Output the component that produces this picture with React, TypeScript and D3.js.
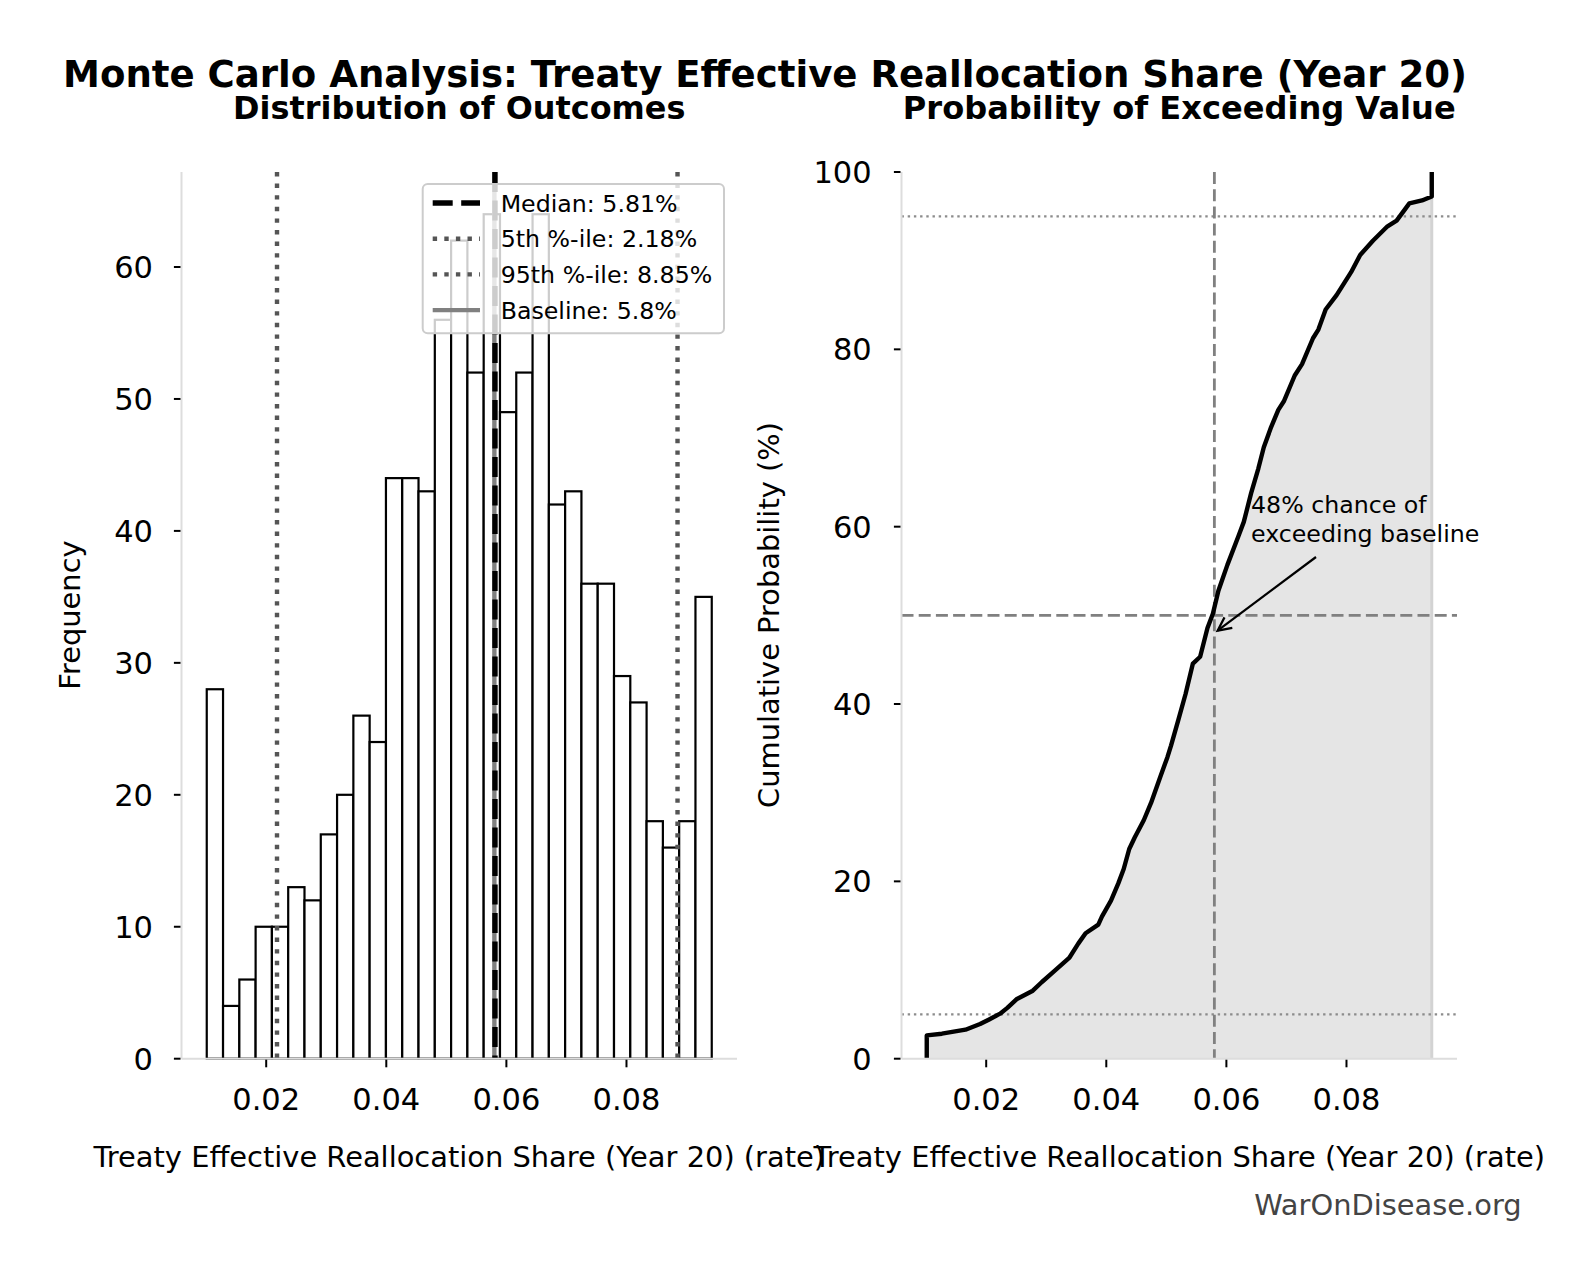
import React from "react";
import * as d3 from "d3";

// ---- Simulation summary (1000 Monte Carlo draws) ----
const HIST_COUNTS = [
  28, 4, 6, 10, 10, 13, 12, 17, 20, 26, 24, 44, 44, 43, 56, 62, 52, 64, 49, 52,
  64, 42, 43, 36, 36, 29, 27, 18, 16, 18, 35,
];
const SAMPLE_MIN = 0.0101;
const SAMPLE_MAX = 0.0942;
const MEDIAN = 0.0581;
const P5 = 0.0218;
const P95 = 0.0885;
const BASELINE = 0.058;
const EXCEED_PCT = 48;

// Empirical cumulative distribution (value, cumulative %)
const CDF_X = [
  0.0101, 0.0101, 0.01262, 0.01655, 0.01898, 0.02049, 0.02231, 0.02352, 0.02504,
  0.02776, 0.02928, 0.0311, 0.03382, 0.03533, 0.03655, 0.03867, 0.03927, 0.04078,
  0.042, 0.0429, 0.04382, 0.04473, 0.04624, 0.04745, 0.04897, 0.05018, 0.05078,
  0.052, 0.0532, 0.05442, 0.05563, 0.05685, 0.05775, 0.05867, 0.06017, 0.062,
  0.0629, 0.06412, 0.06532, 0.06623, 0.06745, 0.06865, 0.06957, 0.07138, 0.0726,
  0.07442, 0.07532, 0.07653, 0.07835, 0.08077, 0.08228, 0.0844, 0.08683, 0.08835,
  0.09047, 0.09258, 0.0942, 0.0942,
];
const CDF_PCT = [
  0, 2.63, 2.82, 3.27, 3.91, 4.43, 5.08, 5.73, 6.7, 7.67, 8.65, 9.74, 11.36, 12.98,
  14.15, 15.12, 16.02, 17.83, 19.77, 21.39, 23.65, 24.95, 26.89, 28.84, 31.75,
  34.01, 35.31, 38.22, 41.13, 44.56, 45.33, 48.57, 50.19, 52.78, 55.69, 58.93,
  60.54, 63.78, 66.56, 68.96, 71.23, 73.17, 74.14, 77.05, 78.33, 81.25, 82.23,
  84.49, 86.11, 88.7, 90.64, 92.25, 93.88, 94.52, 96.46, 96.79, 97.24, 100,
];

const X_TICKS = [0.02, 0.04, 0.06, 0.08];
const FREQ_TICKS = [0, 10, 20, 30, 40, 50, 60];
const PCT_TICKS = [0, 20, 40, 60, 80, 100];

const TITLE = "Monte Carlo Analysis: Treaty Effective Reallocation Share (Year 20)";
const LEFT_TITLE = "Distribution of Outcomes";
const RIGHT_TITLE = "Probability of Exceeding Value";
const X_LABEL = "Treaty Effective Reallocation Share (Year 20) (rate)";
const LEGEND_LABELS = [
  `Median: ${(MEDIAN * 100).toFixed(2)}%`,
  `5th %-ile: ${(P5 * 100).toFixed(2)}%`,
  `95th %-ile: ${(P95 * 100).toFixed(2)}%`,
  `Baseline: ${(BASELINE * 100).toFixed(1)}%`,
];

const FONT = "DejaVu Sans, Verdana, sans-serif";
const W = 1581;
const H = 1280;
const TOP = 172;
const BOTTOM = 1058.7;
const LEFT_X = [181.5, 737];
const RIGHT_X = [901.5, 1457];
const SPINE = "#dddddd";
const LABEL_SIZE = 28.9;

export default function App() {
  const pad = (SAMPLE_MAX - SAMPLE_MIN) * 0.05;
  const domain = [SAMPLE_MIN - pad, SAMPLE_MAX + pad];
  const xL = d3.scaleLinear().domain(domain).range(LEFT_X);
  const xR = d3.scaleLinear().domain(domain).range(RIGHT_X);
  const yL = d3.scaleLinear().domain([0, d3.max(HIST_COUNTS)! * 1.05]).range([BOTTOM, TOP]);
  const yR = d3.scaleLinear().domain([0, 100]).range([BOTTOM, TOP]);

  const binW = (SAMPLE_MAX - SAMPLE_MIN) / HIST_COUNTS.length;
  const bins = HIST_COUNTS.map((c, i) => ({
    x0: SAMPLE_MIN + i * binW,
    x1: SAMPLE_MIN + (i + 1) * binW,
    c,
  }));

  const cdf: [number, number][] = CDF_X.map((x, i) => [x, CDF_PCT[i]]);
  const line = d3
    .line<[number, number]>()
    .x((d) => xR(d[0]))
    .y((d) => yR(d[1]));
  const area = d3
    .area<[number, number]>()
    .x((d) => xR(d[0]))
    .y0(yR(0))
    .y1((d) => yR(d[1]));

  // annotation arrow: from just below the text block to the baseline crossing
  const tipX = xR(BASELINE);
  const tipY = yR(EXCEED_PCT);
  const textX = xR(0.0641);
  const textY1 = yR(61.5);
  const fromX = 1316;
  const fromY = 557;
  const ang = Math.atan2(fromY - tipY, fromX - tipX);
  const sx = tipX + Math.cos(ang) * 4;
  const sy = tipY + Math.sin(ang) * 4;
  const headLen = 15;
  const headAng = Math.PI / 7;
  const h1 = [sx + Math.cos(ang + headAng) * headLen, sy + Math.sin(ang + headAng) * headLen];
  const h2 = [sx + Math.cos(ang - headAng) * headLen, sy + Math.sin(ang - headAng) * headLen];

  const legendRowY = (i: number) => 203 + i * 35.7;
  const legendHandles = [
    { stroke: "#000", width: 5.4, dash: "20 8.5" },
    { stroke: "#555", width: 4.4, dash: "4.4 7.2" },
    { stroke: "#555", width: 4.4, dash: "4.4 7.2" },
    { stroke: "#808080", width: 4.4, dash: undefined },
  ];

  return (
    <svg
      width={W}
      height={H}
      style={{ position: "absolute", left: 0, top: 0, display: "block", background: "#fff" }}
      fontFamily={FONT}
    >
      <rect x={0} y={0} width={W} height={H} fill="#fff" />

      {/* titles */}
      <text x={765} y={86.7} textAnchor="middle" fontSize={37.1} fontWeight="bold">
        {TITLE}
      </text>
      <text x={(LEFT_X[0] + LEFT_X[1]) / 2} y={119} textAnchor="middle" fontSize={31.9} fontWeight="bold">
        {LEFT_TITLE}
      </text>
      <text x={(RIGHT_X[0] + RIGHT_X[1]) / 2} y={119} textAnchor="middle" fontSize={32.1} fontWeight="bold">
        {RIGHT_TITLE}
      </text>

      {/* ---------- histogram panel ---------- */}
      <g>
        {bins.map((b, i) => (
          <rect
            key={i}
            x={xL(b.x0)}
            y={yL(b.c)}
            width={xL(b.x1) - xL(b.x0)}
            height={yL(0) - yL(b.c)}
            fill="#fff"
            stroke="#000"
            strokeWidth={2.2}
          />
        ))}
        <line x1={xL(BASELINE)} x2={xL(BASELINE)} y1={TOP} y2={BOTTOM} stroke="#808080" strokeWidth={4.4} />
        <line
          x1={xL(MEDIAN)}
          x2={xL(MEDIAN)}
          y1={TOP}
          y2={BOTTOM}
          stroke="#000"
          strokeWidth={5.4}
          strokeDasharray="20 8.5"
        />
        {[P5, P95].map((p, i) => (
          <line
            key={i}
            x1={xL(p)}
            x2={xL(p)}
            y1={TOP}
            y2={BOTTOM}
            stroke="#555"
            strokeWidth={4.4}
            strokeDasharray="4.4 7.2"
          />
        ))}
        {/* spines */}
        <line x1={LEFT_X[0]} x2={LEFT_X[0]} y1={TOP} y2={BOTTOM} stroke={SPINE} strokeWidth={2} />
        <line x1={LEFT_X[0]} x2={LEFT_X[1]} y1={BOTTOM} y2={BOTTOM} stroke={SPINE} strokeWidth={2} />
        {FREQ_TICKS.map((t) => (
          <g key={t}>
            <line x1={LEFT_X[0] - 7.6} x2={LEFT_X[0] - 1} y1={yL(t)} y2={yL(t)} stroke="#000" strokeWidth={2} />
            <text x={153} y={yL(t) + 11} textAnchor="end" fontSize={30.5}>
              {t}
            </text>
          </g>
        ))}
        {X_TICKS.map((t) => (
          <g key={t}>
            <line x1={xL(t)} x2={xL(t)} y1={BOTTOM + 1} y2={BOTTOM + 8.6} stroke="#000" strokeWidth={2} />
            <text x={xL(t)} y={1110} textAnchor="middle" fontSize={30.5}>
              {d3.format(".2f")(t)}
            </text>
          </g>
        ))}
        <text x={(LEFT_X[0] + LEFT_X[1]) / 2} y={1167} textAnchor="middle" fontSize={LABEL_SIZE}>
          {X_LABEL}
        </text>
        <text transform={`translate(79.7, 615) rotate(-90)`} textAnchor="middle" fontSize={LABEL_SIZE}>
          Frequency
        </text>

        {/* legend */}
        <rect
          x={422.7}
          y={184}
          width={301.3}
          height={149.3}
          rx={5}
          fill="#fff"
          fillOpacity={0.8}
          stroke="#cccccc"
          strokeWidth={2}
        />
        {LEGEND_LABELS.map((lab, i) => (
          <g key={lab}>
            <line
              x1={432.7}
              x2={480}
              y1={legendRowY(i)}
              y2={legendRowY(i)}
              stroke={legendHandles[i].stroke}
              strokeWidth={legendHandles[i].width}
              strokeDasharray={legendHandles[i].dash}
            />
            <text x={500.7} y={legendRowY(i) + 8.6} fontSize={23.7}>
              {lab}
            </text>
          </g>
        ))}
      </g>

      {/* ---------- cumulative panel ---------- */}
      <g>
        <path d={area(cdf)!} fill="#e5e5e5" />
        <line
          x1={xR(SAMPLE_MAX)}
          x2={xR(SAMPLE_MAX)}
          y1={yR(0)}
          y2={yR(CDF_PCT[CDF_PCT.length - 2])}
          stroke="#d3d3d3"
          strokeWidth={3}
        />
        {[5, 95].map((p) => (
          <line
            key={p}
            x1={RIGHT_X[0]}
            x2={RIGHT_X[1]}
            y1={yR(p)}
            y2={yR(p)}
            stroke="#8c8c8c"
            strokeWidth={2.4}
            strokeDasharray="2.4 3.8"
          />
        ))}
        <line
          x1={RIGHT_X[0]}
          x2={RIGHT_X[1]}
          y1={yR(50)}
          y2={yR(50)}
          stroke="#808080"
          strokeWidth={2.8}
          strokeDasharray="12 5.2"
        />
        <line
          x1={xR(BASELINE)}
          x2={xR(BASELINE)}
          y1={TOP}
          y2={BOTTOM}
          stroke="#808080"
          strokeWidth={2.8}
          strokeDasharray="12 5.2"
        />
        <path d={line(cdf)!} fill="none" stroke="#000" strokeWidth={4.4} strokeLinejoin="round" />

        {/* spines */}
        <line x1={RIGHT_X[0]} x2={RIGHT_X[0]} y1={TOP} y2={BOTTOM} stroke={SPINE} strokeWidth={2} />
        <line x1={RIGHT_X[0]} x2={RIGHT_X[1]} y1={BOTTOM} y2={BOTTOM} stroke={SPINE} strokeWidth={2} />
        {PCT_TICKS.map((t) => (
          <g key={t}>
            <line x1={RIGHT_X[0] - 7.6} x2={RIGHT_X[0] - 1} y1={yR(t)} y2={yR(t)} stroke="#000" strokeWidth={2} />
            <text x={871.7} y={yR(t) + 11} textAnchor="end" fontSize={30.5}>
              {t}
            </text>
          </g>
        ))}
        {X_TICKS.map((t) => (
          <g key={t}>
            <line x1={xR(t)} x2={xR(t)} y1={BOTTOM + 1} y2={BOTTOM + 8.6} stroke="#000" strokeWidth={2} />
            <text x={xR(t)} y={1110} textAnchor="middle" fontSize={30.5}>
              {d3.format(".2f")(t)}
            </text>
          </g>
        ))}
        <text x={(RIGHT_X[0] + RIGHT_X[1]) / 2} y={1167} textAnchor="middle" fontSize={LABEL_SIZE}>
          {X_LABEL}
        </text>
        <text transform={`translate(779.4, 615) rotate(-90)`} textAnchor="middle" fontSize={LABEL_SIZE}>
          Cumulative Probability (%)
        </text>

        {/* annotation */}
        <line x1={fromX} y1={fromY} x2={sx} y2={sy} stroke="#000" strokeWidth={2.2} />
        <polyline
          points={`${h1[0]},${h1[1]} ${sx},${sy} ${h2[0]},${h2[1]}`}
          fill="none"
          stroke="#000"
          strokeWidth={2.2}
        />
        <text x={textX} y={textY1} fontSize={23.7}>
          {`${EXCEED_PCT}% chance of`}
        </text>
        <text x={textX} y={textY1 + 28.4} fontSize={23.7}>
          exceeding baseline
        </text>
      </g>

      <text x={1521.7} y={1215} textAnchor="end" fontSize={28.9} fill="#444">
        WarOnDisease.org
      </text>
    </svg>
  );
}
